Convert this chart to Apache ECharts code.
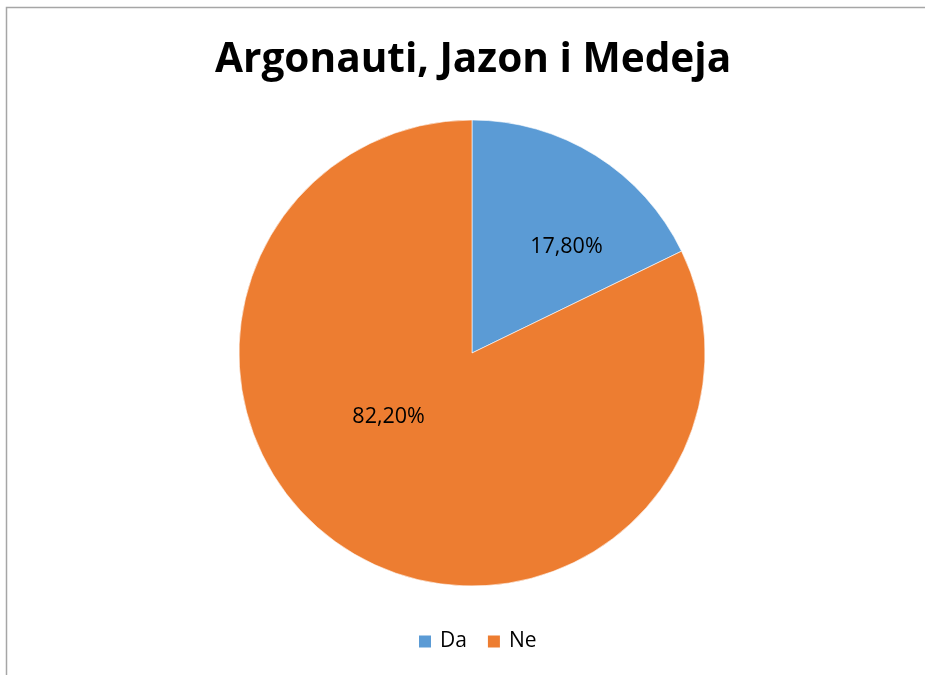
<!DOCTYPE html>
<html>
<head>
<meta charset="utf-8">
<script src="https://cdn.jsdelivr.net/npm/echarts@6/dist/echarts.min.js"></script>
<style>
html, body { margin: 0; padding: 0; background: #fff; }
#chart { width: 925px; height: 675px; }
</style>
</head>
<body>
<div id="chart"></div>
<script>
var chartTitle = 'Argonauti, Jazon i Medeja';
var categories = ['Da', 'Ne'];
var values = [17.8, 82.2];
var colors = ['#5B9BD5', '#ED7D31'];
// label nudges so they sit where the original puts them
var labelOffsets = [[31, -5], [-20, -37]];

var myChart = echarts.init(document.getElementById('chart'));

var option = {
    backgroundColor: '#ffffff',
    animation: false,
    title: {
        text: chartTitle,
        left: 210,
        top: 35,
        textStyle: {
            fontFamily: 'Open Sans',
            fontWeight: 'bold',
            fontSize: 40.6,
            color: '#000'
        }
    },
    legend: {
        data: categories,
        bottom: 18,
        left: 412,
        icon: 'rect',
        itemWidth: 14,
        itemHeight: 14,
        itemGap: 19,
        textStyle: {
            fontFamily: 'Open Sans',
            fontSize: 21,
            color: '#000',
            padding: [0, 0, 0, 3]
        }
    },
    // frame of the chart area (only top and left edges show)
    graphic: [{
        type: 'rect',
        shape: { x: 6.5, y: 7.5, width: 1000, height: 1000 },
        style: { fill: 'none', stroke: '#a6a6a6', lineWidth: 1.5 },
        silent: true
    }],
    series: [{
        type: 'pie',
        center: [472, 353],
        radius: 233,
        startAngle: 90,
        clockwise: true,
        itemStyle: {
            borderColor: '#ffffff',
            borderWidth: 0.6
        },
        label: {
            show: true,
            position: 'inside',
            fontFamily: 'Open Sans',
            fontSize: 21.5,
            color: '#000',
            formatter: function (p) {
                return p.value.toFixed(2).replace('.', ',') + '%';
            }
        },
        labelLine: { show: false },
        emphasis: { disabled: true },
        data: categories.map(function (name, i) {
            return {
                name: name,
                value: values[i],
                itemStyle: { color: colors[i] },
                label: { offset: labelOffsets[i] }
            };
        })
    }]
};

myChart.setOption(option);
</script>
</body>
</html>
